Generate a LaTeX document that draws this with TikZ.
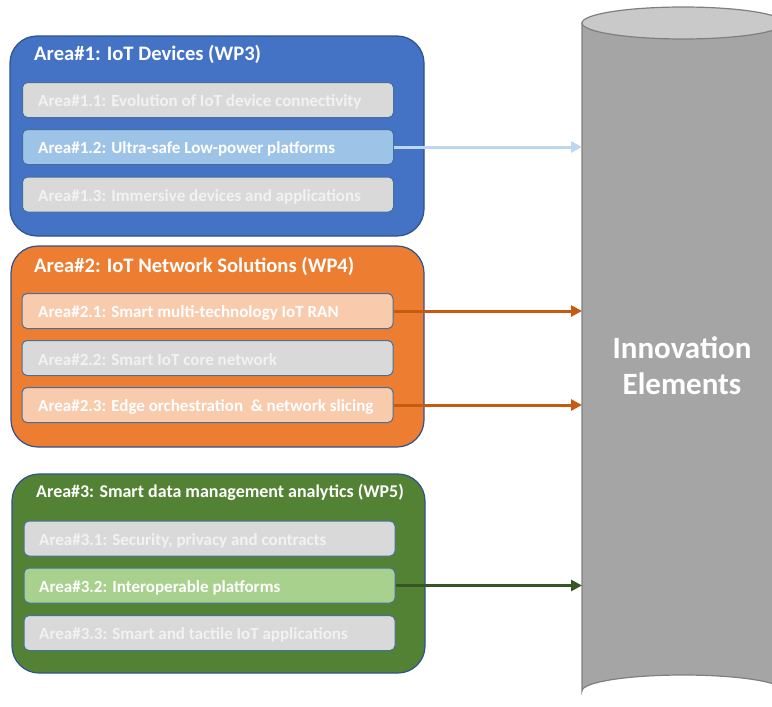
\documentclass[tikz,border=0pt]{standalone}
\usepackage{fontspec}
\setmainfont{Carlito}
\usetikzlibrary{arrows.meta}
\definecolor{areablue}{HTML}{4472C4}
\definecolor{areaorange}{HTML}{ED7D31}
\definecolor{areagreen}{HTML}{548235}
\definecolor{edgeblue}{HTML}{2F528F}
\definecolor{subedge}{HTML}{41719C}
\definecolor{subgray}{HTML}{D9D9D9}
\definecolor{subblue}{HTML}{9DC3E6}
\definecolor{suborange}{HTML}{F8CBAD}
\definecolor{subgreen}{HTML}{A9D18E}
\definecolor{fadetext}{HTML}{F2F2F2}
\definecolor{arrblue}{HTML}{BDD7EE}
\definecolor{arrorange}{HTML}{C55A11}
\definecolor{arrgreen}{HTML}{375623}
\definecolor{cylbody}{HTML}{A5A5A5}
\definecolor{cyltop}{HTML}{C9C9C9}
\definecolor{cyledge}{HTML}{7F7F7F}
\tikzset{
  areabox/.style={draw=edgeblue, line width=1.2pt, rounded corners=27pt, minimum width=#1, inner sep=0pt},
  areatitle/.style={anchor=west, text=white, font=\fontsize{20.6}{23}\selectfont\bfseries, inner sep=0pt, yshift=-2pt},
  subbox/.style={draw=subedge, line width=1pt, rounded corners=5pt, minimum width=371pt, minimum height=35pt, inner sep=0pt},
  subtext/.style={anchor=west, font=\fontsize{17}{19}\selectfont\bfseries, inner sep=0pt, yshift=-2pt},
  feed/.style={line width=3pt, -{Triangle[length=11pt,width=11pt]}},
}
\begin{document}
\begin{tikzpicture}[x=1pt, y=-1pt]
\useasboundingbox (0,0) rectangle (772,707);

% cylinder of innovation elements
\begin{scope}
\clip (0,0) rectangle (772,707);
\path[fill=cylbody, draw=cyledge, line width=1.2pt]
  (582,23) -- (582,691) arc[start angle=180, end angle=360, x radius=101pt, y radius=-16pt]
  -- (784,23) -- cycle;
\path[fill=cyltop, draw=cyledge, line width=1.2pt] (683,23) ellipse[x radius=101pt, y radius=16pt];
\end{scope}
\coordinate (cylL) at (582,0);
\node[text=white, font=\fontsize{31}{36}\selectfont\bfseries, align=center] (innov) at (682,366) {Innovation\\Elements};

% Area 1
\node[areabox=414pt, minimum height=200pt, fill=areablue] (a1) at (217,136) {};
\node[areatitle] (a1t) at (34,52) {Area\#1: IoT Devices (WP3)};
\node[subbox, fill=subgray] (a11) at (208,100) {};
\node[subtext, text=fadetext] at (38,100) {Area\#1.1: Evolution of IoT device connectivity};
\node[subbox, fill=subblue] (a12) at (208,147) {};
\node[subtext, text=white] at (38,147) {Area\#1.2: Ultra-safe Low-power platforms};
\node[subbox, fill=subgray] (a13) at (208,194.5) {};
\node[subtext, text=fadetext] at (38,194.5) {Area\#1.3: Immersive devices and applications};

% Area 2
\node[areabox=413pt, minimum height=201pt, fill=areaorange] (a2) at (217.5,346.5) {};
\node[areatitle] (a2t) at (34,264) {Area\#2: IoT Network Solutions (WP4)};
\node[subbox, fill=suborange] (a21) at (207.5,311) {};
\node[subtext, text=white] at (38,311) {Area\#2.1: Smart multi-technology IoT RAN};
\node[subbox, fill=subgray] (a22) at (207.5,358) {};
\node[subtext, text=fadetext] at (38,358) {Area\#2.2: Smart IoT core network};
\node[subbox, fill=suborange] (a23) at (207.5,405) {};
\node[subtext, text=white] at (38,405) {Area\#2.3: Edge orchestration \ \& network slicing};

% Area 3
\node[areabox=413pt, minimum height=199pt, fill=areagreen] (a3) at (218.5,573.5) {};
\node[areatitle, font=\fontsize{17.95}{20}\selectfont\bfseries] (a3t) at (36,490) {Area\#3: Smart data management analytics (WP5)};
\node[subbox, fill=subgray] (a31) at (209.5,538.5) {};
\node[subtext, text=fadetext] at (39,538.5) {Area\#3.1: Security, privacy and contracts};
\node[subbox, fill=subgreen] (a32) at (209.5,585.5) {};
\node[subtext, text=white] at (39,585.5) {Area\#3.2: Interoperable platforms};
\node[subbox, fill=subgray] (a33) at (209.5,633) {};
\node[subtext, text=fadetext] at (39,633) {Area\#3.3: Smart and tactile IoT applications};

% connectors into the cylinder
\draw[feed, arrblue] (a12.east) -- (a12.east -| cylL);
\draw[feed, arrorange] (a21.east) -- (a21.east -| cylL);
\draw[feed, arrorange] (a23.east) -- (a23.east -| cylL);
\draw[feed, arrgreen] (a32.east) -- (a32.east -| cylL);
\end{tikzpicture}
\end{document}
